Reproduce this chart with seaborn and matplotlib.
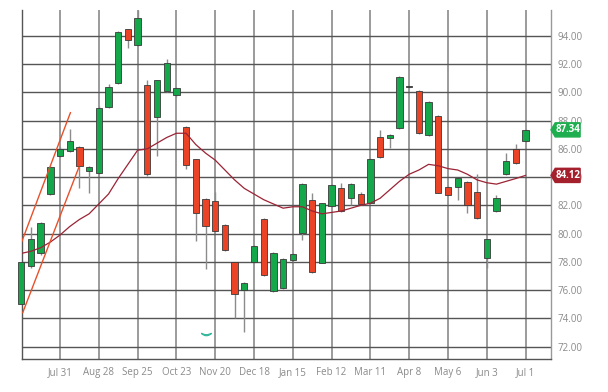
import numpy as np
import pandas as pd
import matplotlib
matplotlib.use("Agg")
import matplotlib.pyplot as plt
import seaborn as sns
from matplotlib.patches import Polygon

# ---------------- data ----------------
opens  = [75.0, 77.7, 78.6, 82.8, 85.5, 85.85, 86.1, 84.4, 84.3, 88.95, 90.66, 94.47, 93.35,
          90.5, 88.26, 90.1, 89.8, 87.55, 85.27, 82.45, 82.3, 80.6, 78.0, 76.0, 78.0, 81.05,
          75.95, 76.18, 78.15, 80.05, 82.4, 77.95, 81.95, 83.2, 82.5, 82.8, 82.2, 86.85, 86.8,
          87.5, 90.35, 90.1, 86.98, 88.33, 83.3, 83.3, 83.65, 82.96, 78.3, 81.6, 84.2, 85.98, 86.56]
closes = [78.0, 79.6, 80.75, 84.7, 86.0, 86.55, 84.8, 84.7, 88.9, 90.4, 94.26, 93.7, 95.25,
          84.2, 90.87, 92.1, 90.3, 84.87, 81.46, 80.55, 80.2, 78.85, 75.75, 76.5, 79.1, 77.1,
          78.6, 78.2, 78.55, 83.5, 77.3, 82.15, 83.45, 81.6, 83.5, 82.1, 85.3, 85.4, 87.0,
          91.1, 90.35, 87.1, 89.3, 82.9, 82.75, 83.9, 82.0, 81.1, 79.6, 82.55, 85.15, 85.0, 87.34]
highs  = [78.0, 80.5, 80.8, 84.8, 86.1, 87.4, 86.2, 84.8, 89.0, 90.6, 94.3, 94.5, 95.8,
          90.9, 90.9, 92.35, 90.4, 87.6, 85.3, 82.5, 82.95, 80.7, 78.0, 76.6, 79.2, 81.1,
          78.7, 78.3, 78.6, 83.6, 82.87, 82.2, 83.5, 83.6, 83.55, 82.96, 85.35, 87.3, 87.05,
          91.15, 90.4, 90.15, 89.35, 88.4, 83.35, 83.95, 83.7, 84.2, 79.65, 82.75, 85.7, 86.35, 87.4]
lows   = [74.95, 77.6, 78.5, 82.7, 85.4, 85.8, 83.2, 82.9, 84.2, 88.9, 90.6, 93.1, 93.3,
          84.1, 85.5, 90.0, 89.7, 84.6, 79.5, 77.5, 80.1, 78.8, 74.05, 73.05, 77.9, 77.0,
          75.9, 76.1, 78.0, 79.55, 77.2, 77.9, 81.9, 81.5, 82.0, 82.05, 82.1, 85.35, 86.05,
          87.4, 90.3, 87.05, 86.9, 82.85, 82.7, 82.4, 81.45, 81.05, 77.6, 81.55, 84.15, 84.95, 86.5]
moving_avg = [78.6, 78.75, 79.0, 79.4, 79.9, 80.5, 81.0, 81.4, 82.1, 82.8, 83.9, 84.9, 85.9,
              86.0, 86.4, 86.8, 87.1, 87.1, 86.3, 85.7, 85.2, 84.5, 83.8, 83.2, 82.8, 82.4,
              82.1, 81.8, 81.9, 81.9, 81.6, 81.4, 81.5, 81.6, 81.8, 82.0, 82.15, 82.5, 83.1,
              83.7, 84.2, 84.5, 84.9, 84.8, 84.6, 84.5, 84.2, 83.8, 83.6, 83.5, 83.7, 83.9, 84.12]
first_week = "2023-07-03"
first_tick = "2023-07-31"
tick_labels = ["Jul 31", "Aug 28", "Sep 25", "Oct 23", "Nov 20", "Dec 18", "Jan 15",
               "Feb 12", "Mar 11", "Apr 8", "May 6", "Jun 3", "Jul 1"]
y_ticks = [72, 74, 76, 78, 80, 82, 84, 86, 88, 90, 92, 94]
# trend channel (week offsets from first week, price)
trend_upper_w = [0.05, 5.08]
trend_upper_p = [79.42, 88.57]
trend_lower_w = [0.15, 5.96]
trend_lower_p = [74.4, 84.72]
event_week = 19
event_price = 72.9
last_price = 87.34
last_ma = 84.12

# ---------------- style ----------------
sns.set_theme(style="white")
plt.rcParams["font.family"] = ["Open Sans", "DejaVu Sans"]

GREEN = "#14a84b"
RED = "#ea4325"
WICK = "#8c8c8c"
MA_COL = "#9b2335"

dates = pd.date_range(first_week, periods=len(opens), freq="W-MON")
df = pd.DataFrame({"date": dates, "open": opens, "close": closes,
                   "high": highs, "low": lows, "ma": moving_avg})
df["up"] = df["close"] >= df["open"]

tick_dates = [pd.Timestamp(first_tick) + pd.Timedelta(days=28 * i) for i in range(len(tick_labels))]

fig = plt.figure(figsize=(6.08, 3.92), dpi=100)
ax = fig.add_axes([21.7 / 608, 1 - 359 / 392, (551 - 21.7) / 608, (359 - 10) / 392])

# grid
for d in tick_dates:
    ax.axvline(d, color="#8a8a8a", lw=1.2, zorder=0.5)
for y in y_ticks:
    ax.axhline(y, color="#555555", lw=1.0, zorder=0.6)

# wicks
ax.vlines(df["date"], df["low"], df["high"], color=WICK, lw=1.0, zorder=2)

# bodies
bottoms = np.minimum(df["open"], df["close"])
heights = np.maximum(np.abs(df["close"] - df["open"]), 0.08)
colors = [GREEN if u else RED for u in df["up"]]
doji = np.abs(df["close"] - df["open"]) < 0.05
colors = ["#333333" if dj else c for c, dj in zip(colors, doji)]
bars = ax.bar(df["date"], heights, bottom=bottoms, width=4.6, color=colors,
              edgecolor="#3a3a3a", linewidth=0.6, zorder=3)
for b in bars:
    b.set_clip_on(False)

# moving average
sns.lineplot(data=df, x="date", y="ma", ax=ax, color=MA_COL, lw=0.9, zorder=4)

# trend channel
d0 = pd.Timestamp(first_week)
for ws, ps in [(trend_upper_w, trend_upper_p), (trend_lower_w, trend_lower_p)]:
    xs = [d0 + pd.Timedelta(days=w * 7) for w in ws]
    ax.plot(xs, ps, color="#e8502a", lw=1.0, zorder=4)

# event marker
ax.plot([dates[event_week]], [event_price], marker=r"$\smile$", ms=7,
        color="#3bb7a0", zorder=4, clip_on=False)

# axes limits
ax.set_xlim(d0 + pd.Timedelta(days=0.35), d0 + pd.Timedelta(days=54.62 * 7))
ax.set_ylim(71.13, 95.82)

ax.set_xticks(tick_dates)
ax.set_xticklabels(tick_labels)
ax.yaxis.tick_right()
ax.set_yticks(y_ticks)
ax.set_yticklabels([f"{v:.2f}" for v in y_ticks])
ax.tick_params(axis="both", length=0, labelsize=7, colors="#8a8a8a")
ax.tick_params(axis="x", pad=6)
ax.tick_params(axis="y", pad=5)
ax.set_xlabel("")
ax.set_ylabel("")

ax.spines["top"].set_visible(False)
ax.spines["left"].set_color("#555555")
ax.spines["bottom"].set_color("#555555")
ax.spines["right"].set_color("#999999")
for s in ["left", "bottom", "right"]:
    ax.spines[s].set_linewidth(1.0)

# price tags
trans = ax.get_yaxis_transform()
for val, col in [(last_price, "#1fae4f"), (last_ma, "#a3202c")]:
    h = 0.5
    poly = Polygon([(1.0, val), (1.008, val + h), (1.055, val + h),
                    (1.055, val - h), (1.008, val - h)], closed=True,
                   transform=trans, facecolor=col, edgecolor=col, clip_on=False, zorder=6)
    ax.add_patch(poly)
    ax.text(1.032, val, f"{val:.2f}", transform=trans, ha="center", va="center",
            color="white", fontsize=7, fontweight="bold", zorder=7, clip_on=False)

fig.savefig("out.png", dpi=100)
